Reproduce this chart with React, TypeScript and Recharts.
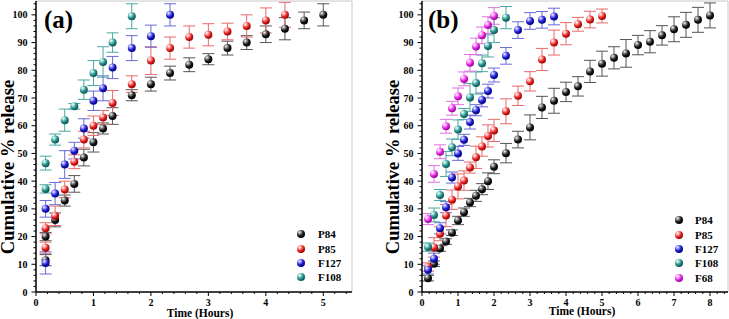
import React from 'react'
import { ScatterChart, Scatter, XAxis, YAxis, ErrorBar, Legend, ReferenceLine } from 'recharts'

// ---- panel (a) ----
const timeA_P84 = [0.167, 0.167, 0.333, 0.5, 0.667, 0.833, 1, 1.167, 1.333, 1.667, 2, 2.333, 2.667, 3, 3.333, 3.667, 4, 4.333, 4.667, 5]
const relA_P84 = [11.5, 20, 26, 33, 39, 48.5, 54, 59, 63.5, 71, 75, 79, 82, 84, 88, 90, 93, 95, 98, 100]
const errA_P84 = [2, 1.5, 2.5, 2, 3, 3, 3.5, 2, 3, 2, 2.5, 2.5, 2.5, 2, 2.5, 2.5, 3, 4, 3, 4]

const timeA_P85 = [0.167, 0.167, 0.333, 0.5, 0.667, 0.833, 1, 1.167, 1.333, 1.667, 2, 2.333, 2.667, 3, 3.333, 3.667, 4, 4.333]
const relA_P85 = [16, 23, 27.5, 37, 47, 55, 60, 63, 68.2, 75, 83.5, 88, 92, 92.8, 94, 96, 98, 100]
const errA_P85 = [2, 2, 3.5, 3, 2.5, 3, 3.5, 2.5, 4.5, 3, 5, 4, 4, 4, 3, 4, 4.5, 4.5]

const timeA_F127 = [0.167, 0.167, 0.333, 0.5, 0.667, 0.833, 1, 1.167, 1.333, 1.667, 2, 2.333]
const relA_F127 = [10.5, 30, 35.5, 46, 51, 59, 69, 73.5, 81, 88, 92.3, 100]
const errA_F127 = [4, 3, 4, 5, 3, 3.5, 3.5, 4.5, 4, 4.5, 4, 4]

const timeA_F108 = [0.167, 0.167, 0.333, 0.5, 0.667, 0.833, 1, 1.167, 1.333, 1.667]
const relA_F108 = [37.2, 46.5, 55, 62, 67, 73, 79, 83, 90, 99.5]
const errA_F108 = [1.5, 2.5, 2, 4, 1, 3.5, 4.5, 5.5, 3.5, 4.5]

// ---- panel (b) ----
const timeB_P84 = [0.167, 0.333, 0.5, 0.667, 0.833, 1, 1.167, 1.333, 1.5, 1.667, 1.833, 2, 2.333, 2.667, 3, 3.333, 3.667, 4, 4.333, 4.667, 5, 5.333, 5.667, 6, 6.333, 6.667, 7, 7.333, 7.667, 8]
const relB_P84 = [5, 10.2, 15.7, 18.2, 21.4, 25.8, 28.8, 32.3, 34.7, 37.1, 40, 45.2, 50.1, 55, 59.4, 66.6, 69, 72.2, 74.2, 79.6, 82.4, 84.5, 86.1, 89.1, 90.3, 92.6, 94.8, 96.4, 98.2, 99.8]
const errB_P84 = [1, 1, 1, 1, 1, 1.5, 1.5, 1.5, 2, 2, 3, 2.5, 3.5, 3, 4.5, 4, 4.5, 3.5, 3.5, 4, 4.5, 4, 5, 3.5, 4, 3.5, 4.5, 4.5, 4.5, 4.5]

const timeB_P85 = [0.167, 0.333, 0.5, 0.667, 0.833, 1, 1.167, 1.333, 1.5, 1.667, 1.833, 2, 2.333, 2.667, 3, 3.333, 3.667, 4, 4.333, 4.667, 5]
const relB_P85 = [9, 16.1, 21, 27.6, 33.3, 38.1, 40.2, 44.9, 48.6, 52.5, 56.3, 58.3, 65.2, 70.8, 76, 83.9, 90, 93.2, 96.6, 98.3, 99.6]
const errB_P85 = [1.5, 3.5, 2.5, 4, 3.5, 4.5, 3.5, 2, 4, 3.5, 4, 4, 4.5, 3.5, 3.5, 4, 4.5, 4, 2.5, 3, 2.5]

const timeB_F127 = [0.167, 0.333, 0.5, 0.667, 0.833, 1, 1.167, 1.333, 1.5, 1.667, 1.833, 2, 2.333, 2.667, 3, 3.333, 3.667]
const relB_F127 = [8, 12, 23, 30.6, 41.3, 50, 54.9, 61.3, 65.6, 69.3, 72.5, 78.3, 85.2, 94.5, 97.8, 98.2, 99.4]
const errB_F127 = [1.5, 2, 2, 2, 2, 2.5, 2, 2.5, 2, 2.5, 2.5, 2.5, 3, 3, 3, 3, 3]

const timeB_F108 = [0.167, 0.333, 0.5, 0.667, 0.833, 1, 1.167, 1.333, 1.5, 1.667, 1.833, 2, 2.333]
const relB_F108 = [16.2, 27.8, 35, 46.2, 52.2, 58.6, 64.2, 70.2, 75.4, 82.5, 88.8, 94.5, 99]
const errB_F108 = [1.5, 2.5, 2, 4.5, 3, 3.5, 2, 5, 4, 3, 4, 4.5, 4]

const timeB_F68 = [0.167, 0.333, 0.5, 0.667, 0.833, 1, 1.167, 1.333, 1.5, 1.667, 1.833, 2]
const relB_F68 = [26.3, 42.6, 50.6, 59.8, 66.3, 70.6, 76.9, 82.7, 88.6, 92.6, 96.3, 99.6]
const errB_F68 = [2, 3, 2.5, 2.5, 2.5, 3, 2.5, 3, 3, 3, 3, 3]

// ticks
const yTicks = Array.from({ length: 53 }, (_, i) => i * 2)
const xTicksA = Array.from({ length: 28 }, (_, i) => Math.round(i * 2) / 10)
const xTicksB = Array.from({ length: 43 }, (_, i) => Math.round(i * 2) / 10)

const FONT = '"Liberation Serif", "Times New Roman", serif'

const STYLES: Record<string, { base: string; light: string; dark: string; bar: string }> = {
  P84: { base: '#151515', light: '#9a9a9a', dark: '#000000', bar: '#555555' },
  P85: { base: '#e41e1e', light: '#ffb0b0', dark: '#8a0000', bar: '#e86a6a' },
  F127: { base: '#1818c8', light: '#9a9aff', dark: '#000070', bar: '#6a6ad8' },
  F108: { base: '#1f8a85', light: '#a0dcd6', dark: '#0a4a46', bar: '#4aa8a2' },
  F68: { base: '#e022e0', light: '#ffb0ff', dark: '#8a008a', bar: '#e070e0' },
}

const zip = (t: number[], v: number[], e: number[]) => t.map((x, i) => ({ x, y: v[i], err: e[i] }))

const seriesA = [
  { name: 'P84', data: zip(timeA_P84, relA_P84, errA_P84) },
  { name: 'P85', data: zip(timeA_P85, relA_P85, errA_P85) },
  { name: 'F127', data: zip(timeA_F127, relA_F127, errA_F127) },
  { name: 'F108', data: zip(timeA_F108, relA_F108, errA_F108) },
]

const seriesB = [
  { name: 'P84', data: zip(timeB_P84, relB_P84, errB_P84) },
  { name: 'P85', data: zip(timeB_P85, relB_P85, errB_P85) },
  { name: 'F127', data: zip(timeB_F127, relB_F127, errB_F127) },
  { name: 'F108', data: zip(timeB_F108, relB_F108, errB_F108) },
  { name: 'F68', data: zip(timeB_F68, relB_F68, errB_F68) },
]

const Gradients = () => (
  <defs>
    {Object.entries(STYLES).map(([k, s]) => (
      <radialGradient key={k} id={`sph-${k}`} cx="35%" cy="30%" r="75%" fx="32%" fy="28%">
        <stop offset="0%" stopColor="#ffffff" />
        <stop offset="22%" stopColor={s.light} />
        <stop offset="60%" stopColor={s.base} />
        <stop offset="100%" stopColor={s.dark} />
      </radialGradient>
    ))}
  </defs>
)

const sphere = (key: string) => (props: any) => (
  <circle cx={props.cx} cy={props.cy} r={4} fill={`url(#sph-${key})`} />
)

const YTick = (props: any) => {
  const { x, y, payload } = props
  const v = payload.value
  const major = v % 10 === 0 && v <= 100
  return (
    <g>
      <line x1={x - (major ? 4.5 : 2.5)} x2={x} y1={y} y2={y} stroke="#000" strokeWidth={1} />
      {major && (
        <text x={x - 8.5} y={y + 3.5} textAnchor="end" fontFamily={FONT} fontWeight="bold" fontSize={10} fill="#000">
          {v}
        </text>
      )}
    </g>
  )
}

const XTick = (props: any) => {
  const { x, y, payload } = props
  const v = payload.value
  const major = Math.abs(v - Math.round(v)) < 1e-6
  return (
    <g>
      <line x1={x} x2={x} y1={y} y2={y + (major ? 4 : 2)} stroke="#000" strokeWidth={1} />
      {major && (
        <text x={x} y={y + 14} textAnchor="middle" fontFamily={FONT} fontWeight="bold" fontSize={10} fill="#000">
          {v}
        </text>
      )}
    </g>
  )
}

const LegendBox = ({ names, gap }: { names: string[]; gap: number }) => (
  <div style={{ fontFamily: FONT, fontWeight: 'bold', fontSize: 11, color: '#000' }}>
    {names.map((n) => (
      <div key={n} style={{ display: 'flex', alignItems: 'center', height: 14.4 }}>
        <svg width={12} height={12} style={{ display: 'block' }}>
          <circle cx={6} cy={6} r={4} fill={`url(#sph-${n})`} />
        </svg>
        <span style={{ marginLeft: gap, lineHeight: '14px' }}>{n}</span>
      </div>
    ))}
  </div>
)

interface PanelProps {
  series: { name: string; data: { x: number; y: number; err: number }[] }[]
  width: number
  yAxisWidth: number
  marginRight: number
  xMax: number
  xTicks: number[]
  letter: string
  letterX: number
  yTitleX: number
  xTitleDx: number
  xTitleDy: number
  legendLeft: number
  legendTop: number
  legendGap: number
}

function Panel(p: PanelProps) {
  return (
    <ScatterChart width={p.width} height={319} margin={{ top: 1, right: p.marginRight, bottom: 0, left: 0 }}>
      <Gradients />
      <XAxis
        type="number"
        dataKey="x"
        domain={[0, p.xMax]}
        ticks={p.xTicks}
        interval={0}
        height={27}
        tickSize={0}
        tickMargin={0}
        tickLine={false}
        tick={<XTick />}
        axisLine={{ stroke: '#000', strokeWidth: 1.5 }}
        label={{
          content: (lp: any) => {
            const vb = lp.viewBox
            return (
              <text x={vb.x + vb.width / 2 + p.xTitleDx} y={vb.y + p.xTitleDy} textAnchor="middle" fontFamily={FONT} fontWeight="bold" fontSize={11.5} fill="#000">
                Time (Hours)
              </text>
            )
          },
        }}
      />
      <YAxis
        type="number"
        dataKey="y"
        domain={[0, 105]}
        ticks={yTicks}
        interval={0}
        width={p.yAxisWidth}
        tickSize={0}
        tickMargin={0}
        tickLine={false}
        tick={<YTick />}
        axisLine={{ stroke: '#000', strokeWidth: 1.5 }}
        label={{
          content: () => (
            <text x={p.yTitleX} y={167} transform={`rotate(-90, ${p.yTitleX}, 167)`} textAnchor="middle" fontFamily={FONT} fontWeight="bold" fontSize={18.5} fill="#000">
              Cumulative % release
            </text>
          ),
        }}
      />
      <ReferenceLine y={105} stroke="#c8c8c8" strokeWidth={1} />
      <ReferenceLine x={p.xMax} stroke="#c8c8c8" strokeWidth={1} />
      {p.series.map((s) => (
        <Scatter key={s.name} name={s.name} data={s.data} shape={sphere(s.name)} isAnimationActive={false}>
          <ErrorBar dataKey="err" direction="y" width={6} stroke={STYLES[s.name].bar} strokeWidth={1} />
        </Scatter>
      ))}
      <text x={p.letterX} y={28} fontFamily={FONT} fontWeight="bold" fontSize={25} fill="#000">
        {p.letter}
      </text>
      <Legend
        layout="vertical"
        align="center"
        verticalAlign="middle"
        wrapperStyle={{ left: p.legendLeft, top: p.legendTop, width: 70 }}
        content={() => <LegendBox names={p.series.map((s) => s.name)} gap={p.legendGap} />}
      />
    </ScatterChart>
  )
}

export default function App() {
  return (
    <div style={{ position: 'absolute', left: 0, top: 0, width: 729, height: 319, background: '#fff' }}>
      <div style={{ position: 'absolute', left: 0, top: 0 }}>
        <Panel
          series={seriesA}
          width={365}
          yAxisWidth={36}
          marginRight={13}
          xMax={5.5}
          xTicks={xTicksA}
          letter="(a)"
          letterX={44}
          yTitleX={14}
          xTitleDx={6}
          xTitleDy={25}
          legendLeft={295}
          legendTop={227}
          legendGap={11}
        />
      </div>
      <div style={{ position: 'absolute', left: 365, top: 0 }}>
        <Panel
          series={seriesB}
          width={364}
          yAxisWidth={57}
          marginRight={1}
          xMax={8.5}
          xTicks={xTicksB}
          letter="(b)"
          letterX={63}
          yTitleX={34}
          xTitleDx={7}
          xTitleDy={22.5}
          legendLeft={308}
          legendTop={213}
          legendGap={10}
        />
      </div>
    </div>
  )
}
